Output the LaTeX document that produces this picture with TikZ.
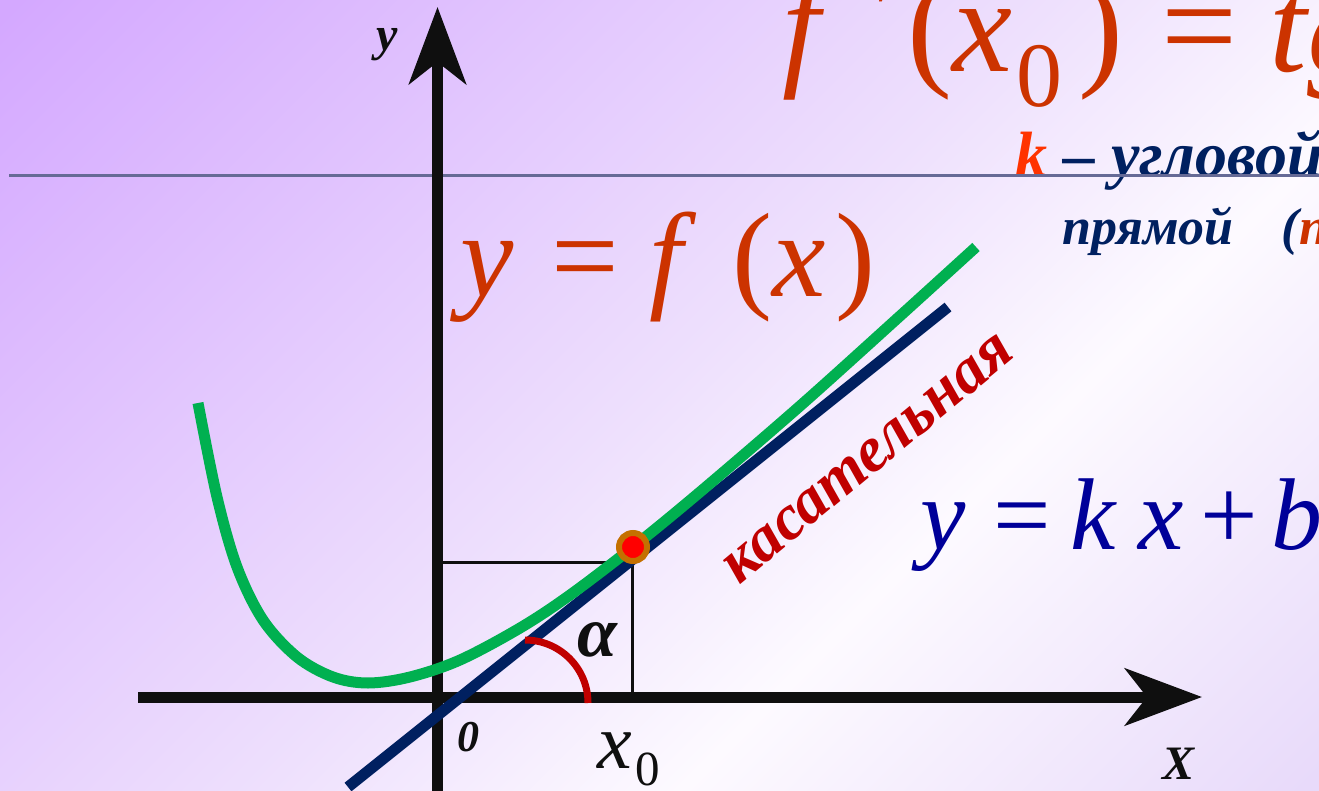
\documentclass[tikz,border=0pt]{standalone}
\usepackage{fontspec}
\setmainfont{Liberation Serif}
\usetikzlibrary{arrows.meta}
\definecolor{PageTop}{RGB}{212,168,255}
\definecolor{PageMid}{RGB}{238,224,253}
\definecolor{PageLight}{RGB}{253,250,255}
\definecolor{PageEnd}{RGB}{232,218,250}
\definecolor{AxisInk}{RGB}{15,15,15}
\definecolor{RuleSlate}{RGB}{102,106,150}
\definecolor{CurveGreen}{RGB}{0,176,80}
\definecolor{TangentNavy}{RGB}{0,32,96}
\definecolor{AngleRed}{RGB}{192,0,0}
\definecolor{DotRing}{RGB}{196,112,0}
\definecolor{FormulaRed}{RGB}{204,51,0}
\definecolor{SlopeRed}{RGB}{255,51,0}
\definecolor{LineBlue}{RGB}{0,0,153}
\pgfdeclarehorizontalshading{pageshade}{100bp}{color(0bp)=(PageTop); color(15bp)=(PageTop); color(50bp)=(PageMid); color(64bp)=(PageLight); color(85bp)=(PageEnd); color(100bp)=(PageEnd)}
\newcommand{\fsz}[1]{\fontsize{#1}{#1}\selectfont}
\tikzset{
  axis arrow/.style={line width=11pt, draw=AxisInk, -{Stealth[length=77pt, width=57pt, inset=22pt]}},
  slate rule/.style={line width=3pt, draw=RuleSlate},
  guide line/.style={line width=3pt, draw=AxisInk},
  tangent line/.style={line width=11pt, draw=TangentNavy},
  graph line/.style={line width=11pt, draw=CurveGreen},
  angle arc/.style={line width=7pt, draw=AngleRed},
  touch dot/.style={circle, fill=red, draw=DotRing, line width=6pt, minimum size=28pt, inner sep=0pt},
  axis label/.style={font=\fsz{48}\bfseries\itshape, text=AxisInk, inner sep=0pt},
  big formula/.style={inner sep=0pt, anchor=base west},
  note text/.style={font=\fsz{64}\bfseries\itshape, text=TangentNavy, inner sep=0pt, anchor=base west}
}

\begin{document}
\begin{tikzpicture}[x=1pt, y=-1pt]
\useasboundingbox (0,0) rectangle (1319,791);
\clip (0,0) rectangle (1319,791);
\fill[shading=pageshade, shading angle=-45] (0,0) rectangle (1319,791);

% formulas and notes
\node[big formula, text=FormulaRed, font=\fsz{135}] (deriv) at (782,72)
  {\textit{f}\hspace{40pt}\raisebox{36pt}{\fsz{80}′}\hspace{15pt}(\textit{x}\hspace{4pt}\raisebox{-35pt}{\fsz{92}0}\hspace{16pt})\hspace{38pt}=\hspace{32pt}\textit{tg}};
\node[note text] (slope1) at (1015,177) {\textcolor{SlopeRed}{k} – угловой};
\node[note text, font=\fsz{52}\bfseries\itshape] (slope2) at (1062,245) {прямой\hspace{48pt}(\textcolor{FormulaRed}{п}};
\node[big formula, text=FormulaRed, font=\fsz{120}] (funceq) at (460,297)
  {\textit{y}\hspace{38pt}=\hspace{30pt}\textit{f}\hspace{36pt}(\textit{x}\hspace{10pt})};
\node[big formula, text=LineBlue, font=\fsz{102}] (lineeq) at (920,549)
  {\textit{y}\hspace{28pt}=\hspace{19pt}\textit{k}\hspace{22pt}\textit{x}\hspace{16pt}+\hspace{14pt}\textit{b}};
\node[rotate=39.6, font=\fsz{64}\bfseries\itshape, text=AngleRed, inner sep=0pt] (tanname) at (869,459) {касательная};

% axes
\coordinate (ruleL) at (9,176);
\coordinate (ruleR) at (1319,176);
\coordinate (xs) at (138,697);
\coordinate (xe) at (1202,697);
\coordinate (ys) at (437.5,800);
\coordinate (ye) at (437.5,7);
\draw[slate rule] (ruleL) -- (ruleR);
\draw[axis arrow] (xs) -- (xe);
\draw[axis arrow] (ys) -- (ye);

% x0 guides and angle
\coordinate (P) at (632,562);
\coordinate (gy) at (443,562);
\coordinate (gx) at (632,697);
\draw[guide line] (gy) -- (P) -- (gx);
\coordinate (tanA) at (348,787);
\coordinate (tanB) at (948,307);
\draw[tangent line] (tanA) -- (tanB);
\coordinate (arcS) at (525,640);
\draw[angle arc] (arcS) arc[start angle=-90, end angle=0, radius=63];
\draw[graph line] plot[smooth, tension=0.55] coordinates {(198,403) (217,497) (237,567) (263,620) (297,657) (333,677) (368,683) (410,677) (460,660) (520,628) (570,595) (633,547) (700,492) (800,406) (900,316) (976,247)};
\node[touch dot] (M) at (633,547) {};

% labels
\node[axis label] (ylab) at (387,45) {y};
\node[axis label] (xlab) at (1178,764) {X};
\node[axis label, font=\fsz{44}\bfseries\itshape] (zero) at (468,737) {0};
\node[axis label, font=\fsz{72}\bfseries\itshape] (alpha) at (597,640) {α};
\node[big formula, font=\fsz{78}, text=AxisInk] (xnull) at (597,768) {\textit{x}\hspace{4pt}\raisebox{-17pt}{\fsz{49}0}};
\end{tikzpicture}
\end{document}
